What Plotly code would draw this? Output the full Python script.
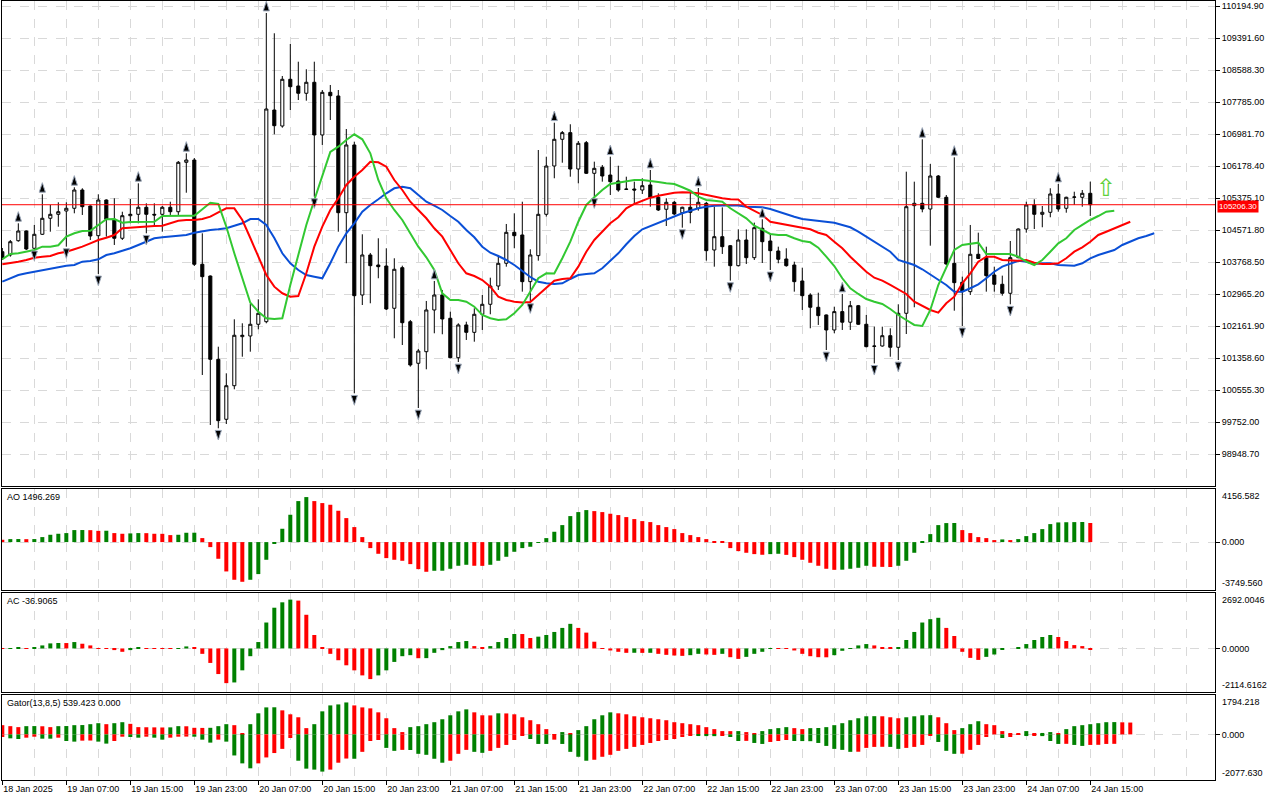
import plotly.graph_objects as go
from plotly.subplots import make_subplots

# hourly bars, bar 0 = 18 Jan 2025 23:00
opens = [104027, 103945, 104303, 104547, 104113, 104464, 104866, 104966, 105049, 105117,
         105576, 105174, 104429, 105325, 104841, 104364, 104931, 104966, 105142, 104966,
         104966, 105142, 105031, 106271, 106329, 103711, 103417, 101326, 99820, 100663,
         101894, 101911, 102205, 102270, 107584, 107182, 108355, 108187, 108004, 108280,
         106957, 108028, 107936, 105006, 106706, 102940, 103945, 103693, 103668, 102607,
         103626, 102270, 101226, 101517, 102564, 102940, 102356, 101366, 102188, 102003,
         102456, 102707, 103166, 103736, 104514, 104447, 103275, 103928, 104966, 106178,
         106849, 107016, 106103, 106764, 105995, 106145, 105952, 105802, 105601, 105601,
         105576, 105702, 105393, 105092, 105267, 105006, 105142, 105117, 105242, 104070,
         104404, 104178, 103676, 104321, 103877, 104615, 104296, 104045, 103844, 103693,
         103292, 102940, 102632, 102439, 102062, 102523, 102257, 102672, 102205, 101660,
         101660, 101919, 101628, 102481, 105183, 105242, 105099, 105927, 105393, 103736,
         103260, 103024, 103962, 103882, 103443, 103209, 102983, 103877, 104597, 105200,
         104966, 105016, 105476, 105117, 105393, 105393, 105493]
highs = [104120, 104321, 104740, 104560, 104698, 105468, 105200, 105267, 105267, 105644,
         105619, 105190, 105468, 105340, 105368, 105031, 105350, 105744, 105242, 105242,
         105174, 105282, 106304, 106497, 106379, 104489, 103430, 101642, 100974, 102330,
         102230, 102714, 102832, 110019, 109510, 108438, 109241, 108797, 108606, 108797,
         108086, 108212, 108086, 107107, 106789, 104464, 103995, 104364, 104113, 103862,
         103676, 102313, 101585, 102790, 103292, 103066, 102521, 102230, 102270, 102607,
         102940, 103375, 103945, 104723, 104991, 105282, 104087, 106580, 106412, 107265,
         107057, 107226, 106806, 106806, 106287, 106203, 106412, 106186, 105910, 105785,
         105870, 106078, 105493, 105368, 105300, 105157, 105576, 105626, 105275, 105157,
         105140, 104196, 104589, 104589, 104757, 104841, 104489, 104153, 104113, 103776,
         103626, 102983, 102998, 102450, 102647, 102966, 102790, 102690, 102439, 102145,
         102145, 102104, 102707, 106036, 105785, 106849, 106228, 105952, 105450, 106396,
         103400, 104698, 104505, 104153, 103651, 103426, 104296, 104610, 105282, 105343,
         105174, 105619, 105727, 105408, 105533, 105576, 105785]
lows = [103819, 103902, 104278, 104070, 104095, 104447, 104529, 104655, 104153, 104991,
        104949, 104321, 103468, 104404, 104196, 104321, 104740, 104740, 104489, 104655,
        104529, 104949, 104949, 105508, 103668, 100932, 99677, 99594, 99702, 100573,
        101391, 101517, 102079, 102230, 106974, 107140, 107584, 107835, 107818, 105408,
        106706, 107333, 104529, 103736, 100472, 102689, 102732, 103360, 102564, 101854,
        101685, 101141, 100103, 101075, 101979, 101954, 101351, 101258, 101811, 101768,
        102062, 102456, 103066, 103651, 104113, 103024, 102772, 103802, 104907, 105870,
        106261, 105910, 105744, 105978, 105408, 105785, 105450, 105533, 105576, 105242,
        105476, 105157, 105049, 104672, 104949, 104630, 104740, 105057, 103802, 103651,
        103970, 103300, 103656, 103719, 103819, 103744, 103568, 103736, 103651, 103024,
        102564, 102105, 102188, 101559, 101981, 102062, 102062, 102188, 101628, 101223,
        101643, 101391, 101308, 101961, 102632, 105016, 104178, 105375, 103693, 102546,
        102163, 102940, 103849, 103024, 103024, 102923, 102707, 103862, 104505, 104597,
        104640, 104891, 105031, 105006, 105200, 105157, 104924]
closes = [103862, 104278, 104547, 104095, 104464, 104866, 104966, 105031, 105117, 105576,
          105157, 104421, 105325, 104841, 104364, 104931, 104966, 105142, 104966, 104948,
          105142, 105031, 106271, 106329, 103711, 103400, 101326, 99785, 100663, 101929,
          101929, 102205, 102481, 107609, 107190, 108355, 108169, 108004, 108280, 106957,
          108028, 107943, 105006, 106706, 102923, 103945, 103676, 103651, 102589, 103586,
          102245, 101183, 101534, 102564, 102940, 102338, 101366, 102188, 102003, 102456,
          102707, 103166, 103736, 104514, 104429, 103275, 103945, 104966, 106178, 106849,
          107016, 106103, 106748, 105995, 106120, 105927, 105785, 105576, 105593, 105576,
          105684, 105393, 105074, 105267, 104974, 105142, 105016, 105267, 104053, 104404,
          104153, 103676, 104321, 103877, 104630, 104278, 104053, 103837, 103676, 103275,
          102923, 102632, 102422, 102062, 102523, 102257, 102672, 102205, 101643, 101653,
          101919, 101628, 102481, 105157, 105242, 105099, 105927, 105393, 103719, 103250,
          103024, 103962, 103857, 103426, 103209, 102983, 103877, 104597, 105200, 104966,
          105016, 105476, 105099, 105393, 105400, 105493, 105206.30]

# Alligator (lines run past the last bar by their shifts)
jaw = [103274, 103360, 103442, 103485, 103525, 103568, 103611, 103651, 103676, 103693,
       103776, 103794, 103837, 103944, 103987, 104052, 104113, 104195, 104278, 104364,
       104389, 104404, 104429, 104446, 104504, 104547, 104572, 104590, 104615, 104680,
       104740, 104848, 104850, 104697, 104371, 103987, 103736, 103568, 103442, 103400,
       103360, 103736, 104153, 104489, 104740, 105031, 105200, 105343, 105493, 105619,
       105659, 105619, 105450, 105282, 105182, 105074, 104923, 104780, 104572, 104389,
       104153, 104002, 103919, 103819, 103693, 103535, 103392, 103274, 103234, 103217,
       103234, 103342, 103442, 103468, 103485, 103611, 103801, 103987, 104213, 104421,
       104590, 104672, 104755, 104823, 104906, 104991, 105056, 105117, 105157, 105182,
       105185, 105186, 105184, 105157, 105142, 105140, 105099, 105031, 104974, 104906,
       104848, 104823, 104798, 104773, 104755, 104698, 104640, 104529, 104404, 104278,
       104153, 104027, 103819, 103751, 103693, 103586, 103460, 103335, 103192, 103024,
       103022, 103109, 103209, 103360, 103525, 103651, 103718, 103801, 103776, 103718,
       103736, 103735, 103693, 103676, 103675, 103736, 103862, 103945, 104002, 104070,
       104196, 104278, 104364, 104421, 104489]
teeth = [103711, 103736, 103776, 103819, 103877, 103902, 103919, 103987, 104027, 104088,
         104153, 104238, 104321, 104379, 104446, 104615, 104630, 104655, 104657, 104672,
         104680, 104740, 104805, 104823, 104825, 104848, 104906, 105016, 105117, 105115,
         104823, 104371, 103902, 103442, 103149, 102983, 102898, 102915, 103485, 104153,
         104655, 105074, 105368, 105702, 105910, 106078, 106286, 106271, 106161, 105827,
         105576, 105282, 105074, 104866, 104615, 104404, 104070, 103736, 103485, 103417,
         103317, 103149, 102898, 102815, 102772, 102752, 102765, 102940, 103124, 103300,
         103342, 103360, 103651, 104027, 104321, 104529, 104740, 104891, 105117, 105225,
         105307, 105383, 105433, 105476, 105508, 105518, 105516, 105493, 105450, 105393,
         105368, 105343, 105340, 105157, 105056, 104949, 104780, 104740, 104698, 104655,
         104615, 104590, 104504, 104447, 104278, 104113, 103902, 103718, 103525, 103375,
         103300, 103192, 103083, 102966, 102772, 102664, 102564, 102496, 102732, 102898,
         103234, 103485, 103776, 103902, 103900, 103819, 103801, 103800, 103819, 103751,
         103718, 103716, 103736, 103862, 104027, 104138, 104278, 104447, 104529, 104615,
         104698, 104780]
lips = [103837, 103970, 103987, 104027, 104070, 104153, 104150, 104188, 104404, 104489,
        104547, 104554, 104697, 104841, 104845, 104755, 104773, 104770, 104772, 104780,
        104923, 104931, 104931, 104932, 104930, 105092, 105257, 105225, 104655, 103987,
        103360, 102747, 102521, 102356, 102338, 102356, 103191, 103945, 104697, 105325,
        105953, 106530, 106663, 106831, 106974, 106849, 106497, 105827, 105368, 105074,
        104823, 104489, 104153, 103887, 103568, 102983, 102815, 102815, 102772, 102647,
        102438, 102356, 102313, 102331, 102481, 102690, 103041, 103360, 103485, 103480,
        103862, 104278, 104780, 105200, 105393, 105576, 105727, 105759, 105809, 105827,
        105827, 105809, 105777, 105744, 105727, 105644, 105558, 105408, 105325, 105307,
        105282, 105117, 104991, 104866, 104680, 104572, 104472, 104447, 104447, 104364,
        104296, 104263, 104128, 103902, 103668, 103360, 103109, 102966, 102840, 102772,
        102714, 102589, 102438, 102313, 102188, 102163, 102564, 103191, 103651, 104070,
        104196, 104221, 104253, 103970, 103970, 103987, 103970, 103902, 103776, 103693,
        103819, 104027, 104238, 104364, 104572, 104698, 104823, 104923, 105031, 105056]

up_fractals = [2, 5, 9, 17, 23, 33, 54, 69, 76, 81, 87, 95, 105, 115, 119, 132]
down_fractals = [4, 8, 12, 18, 27, 39, 44, 52, 57, 66, 74, 85, 91, 96, 103, 109, 112, 120, 126]
signal_bar = 138
signal_price = 105626

ao = [183, 235, 240, 230, 238, 392, 574, 653, 705, 940,
      945, 935, 880, 890, 705, 653, 680, 705, 700, 653,
      648, 548, 574, 731, 735, 313, -392, -1305, -2297, -2949,
      -3106, -2949, -2505, -1383, -104, 1044, 2140, 3210, 3524, 3210,
      3054, 2923, 2453, 1879, 1175, 392, -470, -914, -1253, -1383,
      -1462, -1723, -2114, -2323, -2245, -2240, -2088, -1853, -1775, -1853,
      -1860, -1775, -1462, -1148, -757, -470, -365, -20, 313, 809,
      1331, 2036, 2349, 2506, 2427, 2349, 2219, 2114, 1958, 1801,
      1644, 1566, 1331, 1175, 1018, 705, 548, 392, 235, 78,
      10, -470, -705, -835, -940, -992, -940, -914, -1000, -1175,
      -1383, -1618, -1853, -2088, -2170, -2160, -2088, -2010, -1853, -1931,
      -1940, -1950, -1853, -1462, -835, 10, 626, 1331, 1488, 1495,
      940, 705, 392, 313, 157, 209, 157, 235, 470, 705,
      1018, 1409, 1540, 1555, 1565, 1575, 1496.269]
ac = [10, 20, 30, 15, 33, 147, 245, 265, 262, 310,
      229, 147, -20, -25, -80, -163, -80, 30, 20, 15,
      10, 5, 15, 98, 40, -262, -703, -1243, -1684, -1651,
      -1063, -376, 311, 1259, 1978, 2240, 2371, 2322, 1635, 654,
      33, -262, -572, -818, -1063, -1308, -1488, -1308, -1063, -654,
      -376, -327, -474, -470, -213, -82, 114, 311, 360, 114,
      49, 114, 311, 507, 703, 700, 507, 572, 654, 801,
      997, 1194, 997, 768, 327, 5, -98, -163, -213, -210,
      -215, -212, -262, -311, -343, -360, -327, -262, -294, -311,
      -262, -425, -507, -409, -262, -163, 15, 5, -15, -98,
      -262, -376, -425, -430, -327, -114, 5, 147, 213, 147,
      49, 45, 50, 409, 801, 1259, 1422, 1488, 997, 605,
      -163, -458, -556, -409, -294, -49, 0, 33, 213, 409,
      556, 654, 556, 360, 163, 114, -36.9065]
gator_up = [420, 375, 330, 375, 378, 370, 330, 375, 380, 420,
            425, 465, 510, 465, 510, 555, 480, 330, 325, 320,
            315, 320, 375, 370, 300, 295, 300, 375, 465, 420,
            60, 465, 960, 1230, 1235, 1095, 915, 780, 285, 465,
            1050, 1320, 1365, 1455, 1320, 1230, 1185, 1005, 735, 285,
            105, 330, 375, 465, 555, 690, 870, 1050, 1140, 1005,
            870, 865, 960, 955, 915, 780, 645, 465, 240, 15,
            105, 60, 195, 375, 690, 870, 1005, 960, 915, 825,
            780, 735, 690, 645, 555, 510, 465, 420, 330, 240,
            150, 148, 150, 105, 60, 150, 240, 285, 330, 285,
            240, 285, 290, 330, 420, 510, 645, 735, 825, 830,
            825, 780, 735, 780, 825, 870, 875, 780, 510, 195,
            285, 465, 600, 465, 420, 150, 60, 55, 150, 60,
            65, 105, 60, 240, 375, 420, 465, 510, 555, 560,
            550, 539.423]
gator_down = [120, 180, 210, 150, 105, 195, 195, 150, 300, 330,
              285, 280, 330, 420, 300, 105, 120, 150, 105, 150,
              240, 150, 105, 100, 105, 240, 375, 240, 330, 960,
              1320, 1545, 1320, 1050, 850, 660, 165, 1200, 1560, 1605,
              1695, 1605, 1290, 1100, 1110, 795, 300, 255, 615, 750,
              705, 710, 885, 930, 1110, 1290, 1200, 885, 705, 795,
              840, 750, 615, 480, 255, 30, 210, 435, 435, 240,
              435, 795, 1020, 1200, 1155, 1020, 930, 750, 660, 570,
              480, 390, 300, 255, 210, 120, 30, 75, 78, 80,
              30, 120, 300, 295, 390, 435, 345, 300, 255, 300,
              305, 310, 390, 525, 660, 705, 795, 790, 615, 570,
              565, 570, 660, 615, 570, 480, 30, 345, 750, 885,
              880, 705, 480, 120, 0, 165, 120, 20, 75, 70,
              78, 300, 435, 430, 480, 525, 480, 475, 435, 430,
              0, 0]

price_ticks = [110194.90, 109391.60, 108588.30, 107785.00, 106981.70, 106178.40,
               105375.10, 104571.80, 103768.50, 102965.20, 102161.90, 101358.60,
               100555.30, 99752.00, 98948.70]
time_ticks = [0, 8, 16, 24, 32, 40, 48, 56, 64, 72, 80, 88, 96, 104, 112, 120, 128, 136]
time_labels = ["18 Jan 2025", "19 Jan 07:00", "19 Jan 15:00", "19 Jan 23:00", "20 Jan 07:00",
               "20 Jan 15:00", "20 Jan 23:00", "21 Jan 07:00", "21 Jan 15:00", "21 Jan 23:00",
               "22 Jan 07:00", "22 Jan 15:00", "22 Jan 23:00", "23 Jan 07:00", "23 Jan 15:00",
               "23 Jan 23:00", "24 Jan 07:00", "24 Jan 15:00"]
ao_scale = ["4156.582", "0.000", "-3749.560"]
ac_scale = ["2692.0046", "0.0000", "-2114.6162"]
gator_scale = ["1794.218", "0.000", "-2077.630"]

GREEN = "#008000"
RED = "#ff0000"
GRID = "#d9d9d9"
FONT = "Liberation Sans"
PRICE_RANGE = [98145.4, 110320.4]


def rise_fall(vals):
    # green when the bar grew against the previous one, red otherwise
    return [GREEN if i > 0 and v >= vals[i - 1] else RED for i, v in enumerate(vals)]


bars = list(range(len(closes)))

fig = make_subplots(rows=4, cols=1, shared_xaxes=True, vertical_spacing=3 / 779,
                    row_heights=[485, 101, 99, 85])

fig.add_trace(go.Candlestick(
    x=bars, open=opens, high=highs, low=lows, close=closes,
    increasing=dict(line=dict(color="black", width=1), fillcolor="white"),
    decreasing=dict(line=dict(color="black", width=1), fillcolor="black"),
    whiskerwidth=0, hoverinfo="skip", showlegend=False), row=1, col=1)

for vals, col in [(jaw, "#0a4fd6"), (teeth, "#ff0000"), (lips, "#32c832")]:
    fig.add_trace(go.Scatter(x=list(range(len(vals))), y=vals, mode="lines",
                             line=dict(color=col, width=2), hoverinfo="skip",
                             showlegend=False), row=1, col=1)

# fractal arrows sit a little above the high / below the low
gap = 0.024 * (PRICE_RANGE[1] - PRICE_RANGE[0])
arrow_style = dict(symbol="arrow", size=10, color="black",
                   line=dict(color="#9aa6b8", width=1))
fig.add_trace(go.Scatter(
    x=up_fractals, y=[highs[k] + gap for k in up_fractals], mode="markers",
    marker=dict(angle=0, **arrow_style), cliponaxis=False,
    hoverinfo="skip", showlegend=False), row=1, col=1)
fig.add_trace(go.Scatter(
    x=down_fractals, y=[lows[k] - gap for k in down_fractals], mode="markers",
    marker=dict(angle=180, **arrow_style), cliponaxis=False,
    hoverinfo="skip", showlegend=False), row=1, col=1)

fig.add_hline(y=closes[-1], line_color=RED, line_width=1, row=1, col=1)

# AO / AC
fig.add_trace(go.Bar(x=list(range(len(ao))), y=ao, marker_color=rise_fall(ao), width=0.5,
                     marker_line_width=0, hoverinfo="skip", showlegend=False), row=2, col=1)
fig.add_trace(go.Bar(x=list(range(len(ac))), y=ac, marker_color=rise_fall(ac), width=0.5,
                     marker_line_width=0, hoverinfo="skip", showlegend=False), row=3, col=1)

# Gator
fig.add_trace(go.Bar(x=list(range(len(gator_up))), y=gator_up, marker_color=rise_fall(gator_up),
                     width=0.5, marker_line_width=0, hoverinfo="skip", showlegend=False),
              row=4, col=1)
fig.add_trace(go.Bar(x=list(range(len(gator_down))), y=[-v for v in gator_down],
                     marker_color=rise_fall(gator_down), width=0.5, marker_line_width=0,
                     hoverinfo="skip", showlegend=False), row=4, col=1)

fig.update_layout(
    width=1280, height=800,
    margin=dict(l=2, r=65, t=1, b=20),
    plot_bgcolor="white", paper_bgcolor="white",
    barmode="relative", boxgap=0.45,
    font=dict(family=FONT, size=9, color="black"),
    showlegend=False,
)

fig.update_xaxes(
    range=[-0.04, 151.59], showline=True, mirror=True, linecolor="black", linewidth=1,
    showgrid=True, gridcolor=GRID, griddash="dash", zeroline=False,
    tickmode="array", tickvals=time_ticks, ticktext=time_labels,
    minor=dict(tickmode="linear", tick0=0, dtick=4, showgrid=True, gridcolor=GRID,
               griddash="dash"),
    rangeslider_visible=False, fixedrange=True,
)
fig.update_xaxes(ticks="outside", ticklen=4, tickcolor="black",
                 ticklabelposition="outside right", tickfont=dict(size=9), row=4, col=1)

fig.update_yaxes(side="right", showline=True, mirror=True, linecolor="black", linewidth=1,
                 showgrid=True, gridcolor=GRID, griddash="dash", zeroline=False,
                 ticks="outside", ticklen=4, tickcolor="black", tickfont=dict(size=9),
                 fixedrange=True)
fig.update_yaxes(range=PRICE_RANGE, tickmode="array", tickvals=price_ticks,
                 tickformat=".2f", row=1, col=1)

sub_panels = [(2, [-3749.56, 4156.582], ao_scale, f"AO {ao[-1]:.3f}"),
              (3, [-2114.6162, 2692.0046], ac_scale, f"AC {ac[-1]:.4f}"),
              (4, [-2077.63, 1794.218], gator_scale,
               f"Gator(13,8,5) {gator_up[-1]:.3f} {gator_down[-1]:.3f}")]
for row, rng, scale, title in sub_panels:
    fig.update_yaxes(range=rng, tickmode="array", tickvals=[0], ticktext=[scale[1]],
                     row=row, col=1)
    yref = f"y{row} domain"
    fig.add_annotation(x=0, xref="paper", xanchor="left", xshift=3, y=1, yref=yref,
                       yanchor="top", yshift=-1, text=title, showarrow=False,
                       font=dict(size=9, color="black"))
    fig.add_annotation(x=1, xref="paper", xanchor="left", xshift=5, y=1, yref=yref,
                       yanchor="top", text=scale[0], showarrow=False, font=dict(size=9))
    fig.add_annotation(x=1, xref="paper", xanchor="left", xshift=5, y=0, yref=yref,
                       yanchor="bottom", text=scale[2], showarrow=False, font=dict(size=9))

# current price tag
fig.add_annotation(x=1, xref="paper", xanchor="left", xshift=2, y=closes[-1], yref="y",
                   yanchor="top", yshift=5, text=f"{closes[-1]:.2f}", showarrow=False,
                   bgcolor=RED, font=dict(size=8, color="white"), borderpad=1)

# buy signal arrow
fig.add_annotation(x=signal_bar, y=signal_price, xref="x", yref="y", text="⇧",
                   showarrow=False, font=dict(family="DejaVu Sans", size=24, color="#5fd03a"))

fig.write_html("out.html", config={"displayModeBar": False},
               post_script="document.body.style.margin = '0';")
